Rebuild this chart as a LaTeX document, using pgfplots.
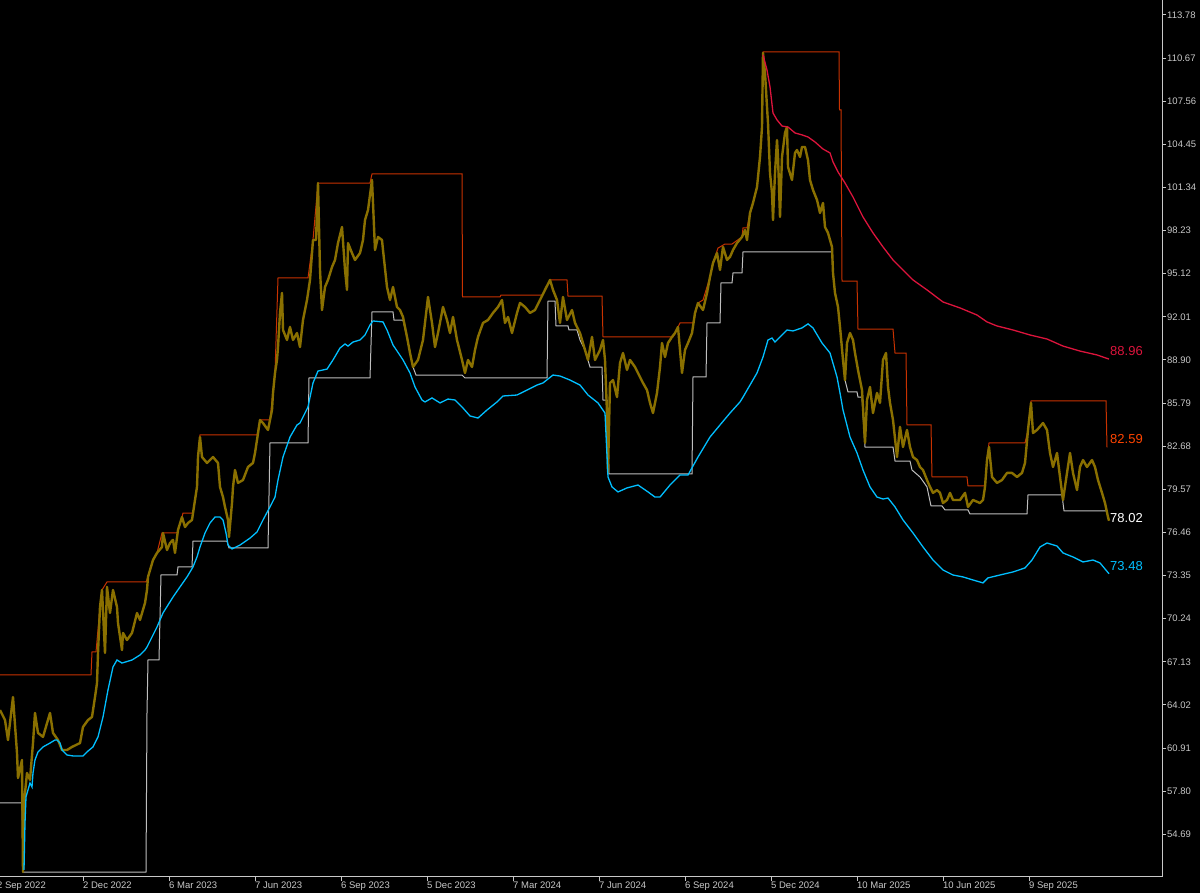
\documentclass[border=0pt]{standalone}
\usepackage{pgfplots}
\pgfplotsset{compat=1.18}
\usepackage{fontspec}
\setmainfont{Liberation Sans}

\definecolor{axisgray}{RGB}{200,200,200}
\definecolor{labelgray}{RGB}{200,200,200}
\definecolor{pricecol}{RGB}{138,112,0}
\definecolor{upcol}{RGB}{200,50,0}
\definecolor{uplabel}{RGB}{255,69,0}
\definecolor{lowcol}{RGB}{190,190,190}
\definecolor{macyan}{RGB}{0,191,255}
\definecolor{macrimson}{RGB}{220,20,60}

\begin{document}
\begin{tikzpicture}[x=1pt,y=1pt]
\fill[black] (0,0) rectangle (1200,893);
\begin{axis}[
  at={(-10pt,16pt)}, anchor=south west,
  width=1172pt, height=877pt, scale only axis,
  xmin=-10, xmax=1162, ymin=51.61, ymax=114.86,
  axis x line=bottom, axis y line=right,
  axis line style={draw=axisgray, -, line width=1pt},
  tick align=outside, major tick length=4pt,
  tick style={draw=axisgray, line width=1pt},
  xtick={-3,83,169,255,341,427,513,599,685,771,857,943,1029},
  xticklabels={2 Sep 2022,2 Dec 2022,6 Mar 2023,7 Jun 2023,6 Sep 2023,5 Dec 2023,7 Mar 2024,7 Jun 2024,6 Sep 2024,5 Dec 2024,10 Mar 2025,10 Jun 2025,9 Sep 2025},
  xticklabel style={anchor=north west, inner sep=0pt, yshift=-1pt, text=labelgray, font=\fontsize{9.5}{10}\selectfont},
  ytick={54.69,57.80,60.91,64.02,67.13,70.24,73.35,76.46,79.57,82.68,85.79,88.90,92.01,95.12,98.23,101.34,104.45,107.56,110.67,113.78},
  yticklabels={54.69,57.80,60.91,64.02,67.13,70.24,73.35,76.46,79.57,82.68,85.79,88.90,92.01,95.12,98.23,101.34,104.45,107.56,110.67,113.78},
  yticklabel style={anchor=west, inner sep=0pt, xshift=1pt, text=labelgray, font=\fontsize{9.5}{10}\selectfont},
]

% upper channel
\addplot[upcol, line width=1pt] coordinates {
(0,66.18) (91,66.18) (92,67.84) (96,67.84) (100,71.08) (102,72.31) (107,72.89) (146,72.89)
(148,73.25) (153,74.47) (157,74.98) (162,76.42) (177,76.42) (182,77.57) (183,77.86) (193,77.86)
(197,79.74) (198,81.90) (200,83.49) (257,83.49) (260,84.57) (270,84.57) (275,87.96) (278,94.81)
(308,94.81) (313,97.55) (318,101.66) (370,101.66) (372,102.31) (462,102.31) (462.5,93.44) (500,93.44)
(501,93.58) (542,93.58) (545,93.95) (550,94.67) (567,94.67) (568,93.51) (602,93.51) (603,90.56)
(673,90.56) (678,91.28) (680,91.57) (693,91.57) (698,93.01) (703,93.22) (710,94.88) (713,95.89)
(718,96.97) (725,97.26) (732,97.26) (742,97.77) (743,98.42) (747,98.42) (750,99.50) (753,100.22)
(757,101.37) (760,103.54) (762,105.70) (763,111.11) (839,111.11) (839.5,106.93) (841,106.93) (842,94.59)
(857,94.59) (858,91.13) (893,91.13) (895,89.40) (906,89.40) (907,84.21) (931,84.21) (932,80.46)
(967,80.46) (968,79.81) (985,79.81) (987,81.68) (989,82.91) (1025,82.91) (1028,83.85) (1031,85.94)
(1106,85.94) (1107,82.59)
};

% lower channel
\addplot[lowcol, line width=1pt] coordinates {
(0,56.95) (22,56.95) (23,51.97) (146,51.97) (147,63.44) (148,67.26) (159,67.26) (161,73.39)
(177,73.39) (178,73.97) (192,73.97) (193,75.84) (227,75.84) (229,75.34) (268,75.34) (270,82.91)
(308,82.91) (309,87.60) (370,87.60) (372,92.36) (393,92.36) (394,91.78) (403,91.78) (407,90.56)
(410,89.40) (413,88.39) (416,87.81) (462,87.81) (465,87.60) (547,87.60) (548,93.15) (555,93.15)
(556,91.35) (568,91.35) (569,91.06) (577,91.06) (580,90.34) (585,89.62) (590,88.39) (602,88.39)
(603,86.01) (607,86.01) (609,80.68) (692,80.68) (693,87.67) (706,87.67) (707,91.57) (720,91.57)
(721,94.45) (732,94.45) (733,95.17) (742,95.17) (743,96.69) (832,96.69) (833,95.17) (835,93.73)
(838,92.72) (840,91.42) (843,88.90) (845,87.45) (848,86.59) (857,86.59) (858,86.22) (862,86.22)
(865,82.62) (893,82.62) (895,81.61) (910,81.61) (912,80.96) (920,80.46) (927,79.74) (931,78.37)
(942,78.37) (945,78.08) (968,78.08) (970,77.79) (1027,77.79) (1028,79.16) (1062,79.16) (1064,78.02)
(1106,78.02)
};

% price
\addplot[pricecol, line width=2.4pt, line join=round] coordinates {
(0,63.65) (5,62.93) (8,61.49) (13,64.59) (17,60.55) (18,58.75) (22,60.05) (23,51.97)
(24,56.95) (27,59.11) (30,58.61) (33,61.27) (35,63.44) (38,62.00) (43,61.71) (50,63.44)
(53,62.00) (58,61.49) (62,60.77) (67,60.77) (72,60.99) (80,61.27) (83,62.43) (88,62.93)
(92,63.15) (95,64.59) (97,65.60) (98,67.77) (100,71.08) (102,72.31) (105,67.77) (107,72.53)
(110,70.65) (113,72.31) (117,71.08) (118,69.93) (122,67.98) (123,69.21) (127,68.70) (132,69.21)
(137,70.65) (140,70.15) (145,71.37) (147,72.31) (148,73.25) (153,74.47) (157,74.98) (162,75.41)
(163,76.42) (167,75.19) (170,75.70) (173,75.92) (175,74.98) (178,76.64) (182,77.57) (185,76.85)
(188,77.14) (192,77.36) (195,78.80) (197,79.74) (198,81.90) (200,83.34) (202,81.90) (207,81.47)
(213,81.90) (218,81.47) (220,79.74) (223,79.01) (225,78.30) (228,77.36) (229,76.13) (232,78.58)
(233,79.74) (235,80.96) (238,80.03) (243,80.24) (248,81.18) (253,81.47) (255,82.19) (257,83.13)
(260,84.57) (263,84.35) (268,83.85) (270,84.57) (272,85.29) (273,86.52) (275,87.96) (277,88.90)
(278,89.83) (280,92.29) (282,93.73) (283,91.06) (287,90.34) (290,91.28) (293,90.34) (297,90.84)
(300,89.83) (303,91.78) (307,93.22) (310,94.67) (313,97.55) (316,97.55) (318,101.66) (320,95.39)
(322,92.50) (325,94.16) (328,94.67) (332,95.60) (335,96.11) (338,97.33) (342,98.49) (345,95.39)
(347,93.95) (348,97.33) (352,96.61) (355,96.11) (360,96.61) (363,97.55) (365,98.99) (368,99.71)
(372,101.88) (373,100.22) (375,96.83) (378,97.77) (382,97.55) (383,96.83) (387,94.16) (390,93.22)
(393,94.16) (397,92.72) (400,92.50) (403,92.00) (407,90.56) (410,89.40) (413,88.39) (418,88.90)
(423,90.34) (428,93.44) (432,91.57) (435,89.83) (438,90.84) (443,92.72) (447,91.78) (450,90.84)
(453,92.00) (457,90.34) (462,88.90) (465,87.96) (468,88.90) (472,88.39) (475,89.62) (478,90.56)
(483,91.57) (488,91.78) (493,92.29) (498,92.72) (502,93.22) (505,91.57) (508,92.00) (512,90.84)
(517,92.29) (520,93.01) (525,92.72) (530,92.29) (535,92.50) (540,93.22) (545,93.95) (550,94.67)
(553,93.95) (557,93.22) (560,91.57) (563,93.44) (567,91.78) (572,92.50) (575,91.57) (580,90.84)
(585,89.62) (588,88.90) (592,90.56) (595,88.90) (600,89.62) (603,90.34) (605,88.90) (607,85.07)
(608,80.82) (610,87.24) (613,87.45) (617,86.22) (620,88.68) (623,89.40) (627,88.18) (630,88.90)
(635,88.39) (640,87.67) (643,87.24) (647,86.73) (650,85.80) (653,85.07) (657,86.52) (660,88.39)
(662,90.12) (665,89.11) (668,90.12) (672,90.56) (675,90.84) (678,91.28) (682,87.96) (685,89.62)
(688,90.12) (692,90.84) (695,92.29) (698,93.01) (703,92.50) (707,93.73) (710,94.88) (713,95.89)
(717,96.61) (720,95.39) (723,97.05) (727,96.11) (730,96.33) (733,96.83) (737,97.33) (742,97.77)
(745,98.27) (747,97.55) (750,99.50) (753,100.22) (757,101.37) (760,103.54) (762,105.70) (763,111.04)
(765,109.60) (767,107.14) (768,105.99) (770,102.38) (772,100.94) (773,98.99) (775,102.38) (777,104.76)
(778,103.54) (780,99.21) (782,103.54) (785,105.27) (787,105.70) (788,102.82) (792,101.88) (795,103.83)
(797,104.04) (800,103.54) (802,104.26) (805,104.26) (808,103.32) (810,101.88) (813,101.16) (817,100.44)
(820,99.50) (823,100.22) (825,98.49) (828,98.06) (832,97.05) (833,95.17) (835,93.73) (838,92.72)
(840,91.28) (843,88.90) (845,87.45) (847,90.12) (850,90.84) (853,90.34) (855,89.40) (858,88.18)
(862,86.73) (865,82.91) (867,86.01) (870,86.95) (873,85.07) (877,86.52) (880,85.80) (883,88.90)
(886,89.40) (888,86.95) (890,85.80) (893,84.57) (897,81.90) (900,84.07) (903,82.62) (907,83.85)
(910,82.62) (913,81.90) (917,81.68) (920,81.18) (923,80.96) (927,80.24) (930,79.74) (933,79.31)
(937,79.52) (940,79.31) (943,78.58) (947,78.80) (950,79.31) (953,78.80) (960,78.80) (965,79.31)
(968,78.30) (973,78.80) (980,78.58) (983,78.80) (985,79.74) (987,81.68) (989,82.62) (992,80.46)
(997,80.03) (1002,80.24) (1007,80.75) (1012,80.75) (1017,80.46) (1022,80.75) (1025,81.47) (1028,83.85)
(1031,85.80) (1033,83.63) (1037,83.85) (1043,84.35) (1047,83.85) (1050,82.19) (1053,81.18) (1057,82.19)
(1060,80.46) (1063,78.80) (1067,80.75) (1070,82.19) (1073,80.75) (1077,79.52) (1080,81.18) (1083,81.68)
(1087,81.18) (1092,81.68) (1095,81.18) (1098,80.24) (1102,79.31) (1105,78.58) (1108,77.57) (1109,77.30)
};

% slow average
\addplot[macyan, line width=1.3pt] coordinates {
(24,52.12) (25,55.51) (26,57.38) (28,57.89) (30,58.39) (32,58.10) (33,59.11) (35,60.05)
(38,60.63) (43,60.99) (50,61.27) (55,61.49) (57,61.49) (60,61.27) (62,60.77) (67,60.41)
(73,60.34) (83,60.34) (87,60.63) (93,60.99) (98,61.71) (103,63.15) (108,65.10) (113,66.76)
(117,67.26) (122,67.04) (132,67.26) (140,67.62) (145,67.98) (147,68.20) (157,69.64) (163,70.65)
(173,71.80) (180,72.53) (187,73.25) (193,73.97) (197,74.69) (200,75.41) (205,76.42) (210,77.14)
(215,77.57) (220,77.57) (223,77.36) (226,76.42) (228,75.55) (232,75.27) (240,75.55) (250,76.05)
(257,76.49) (263,77.36) (270,78.30) (275,79.01) (278,80.24) (283,81.90) (290,83.34) (297,84.21)
(300,84.35) (308,85.51) (313,87.24) (318,88.10) (327,88.24) (333,88.90) (340,89.76) (345,90.05)
(348,89.90) (353,90.19) (360,90.34) (365,90.70) (370,91.42) (373,91.71) (383,91.64) (387,91.06)
(393,89.98) (403,88.90) (410,87.96) (415,86.95) (422,86.01) (425,85.87) (432,86.16) (440,85.80)
(448,86.08) (455,86.01) (462,85.51) (470,84.86) (478,84.71) (487,85.29) (497,85.87) (503,86.30)
(517,86.37) (527,86.73) (537,87.09) (543,87.24) (553,87.81) (560,87.74) (570,87.45) (580,87.09)
(588,86.37) (598,85.80) (605,85.07) (608,80.46) (612,79.74) (618,79.38) (627,79.67) (638,79.88)
(648,79.38) (655,79.01) (660,79.01) (670,79.88) (680,80.60) (688,80.60) (698,81.90) (710,83.34)
(720,84.21) (730,85.07) (740,85.87) (743,86.22) (757,87.96) (763,89.11) (768,90.34) (772,90.48)
(775,90.19) (780,90.56) (787,91.06) (793,90.99) (802,91.21) (808,91.50) (813,91.21) (822,90.12)
(830,89.40) (837,87.67) (840,86.52) (843,85.29) (850,83.34) (857,82.19) (863,80.96) (870,79.74)
(877,79.01) (883,78.87) (888,78.94) (895,78.30) (903,77.36) (913,76.42) (923,75.41) (933,74.47)
(943,73.75) (953,73.39) (963,73.25) (973,73.03) (983,72.82) (988,73.18) (1000,73.39) (1013,73.61)
(1025,73.90) (1032,74.47) (1040,75.41) (1047,75.70) (1057,75.48) (1063,74.98) (1073,74.69) (1083,74.33)
(1093,74.47) (1100,74.26) (1109,73.48)
};

% fast average from the peak
\addplot[macrimson, line width=1.3pt] coordinates {
(763,110.90) (767,109.81) (770,108.59) (773,106.71) (777,106.21) (782,105.77) (788,105.70) (795,105.27)
(802,105.13) (808,104.98) (815,104.62) (823,104.11) (830,103.83) (833,103.18) (838,102.46) (845,101.66)
(853,100.65) (863,99.21) (873,98.06) (883,97.05) (893,96.11) (900,95.60) (913,94.67) (927,93.95)
(943,93.08) (960,92.65) (977,92.14) (987,91.64) (997,91.35) (1013,91.06) (1030,90.70) (1047,90.41)
(1063,89.90) (1080,89.54) (1097,89.26) (1109,88.96)
};

\node[anchor=west, inner sep=0pt, text=macrimson, font=\fontsize{13}{14}\selectfont] at (axis cs:1110,89.55) {88.96};
\node[anchor=west, inner sep=0pt, text=uplabel, font=\fontsize{13}{14}\selectfont] at (axis cs:1110,83.20) {82.59};
\node[anchor=west, inner sep=0pt, text=white, font=\fontsize{13}{14}\selectfont] at (axis cs:1110,77.50) {78.02};
\node[anchor=west, inner sep=0pt, text=macyan, font=\fontsize{13}{14}\selectfont] at (axis cs:1110,74.04) {73.48};
\end{axis}
\pgfresetboundingbox
\path (0,0) rectangle (1200,893);
\end{tikzpicture}
\end{document}
